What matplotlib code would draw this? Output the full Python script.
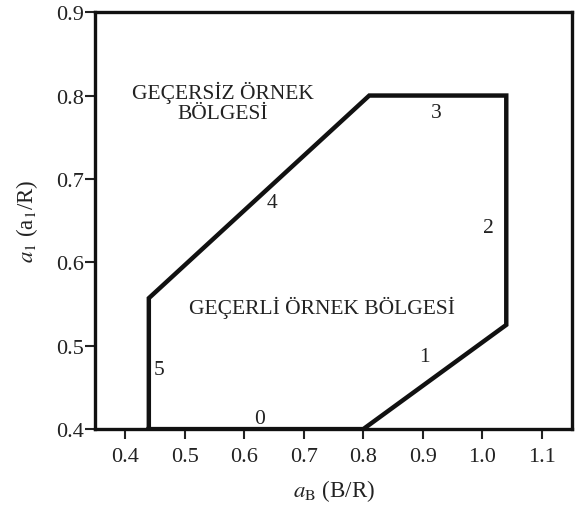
import matplotlib
matplotlib.use("Agg")
import matplotlib.pyplot as plt

plt.rcParams['font.family'] = 'serif'
plt.rcParams['font.serif'] = ['Liberation Serif', 'DejaVu Serif']
plt.rcParams['mathtext.fontset'] = 'stix'

# sınır çokgeni (a_B, a_1)
poly_x = [0.44, 0.44, 0.81, 1.04, 1.04, 0.80, 0.44]
poly_y = [0.40, 0.557, 0.80, 0.80, 0.525, 0.40, 0.40]

# kenar numaraları
edge_labels = ['0', '1', '2', '3', '4', '5']
edge_x = [0.626, 0.902, 1.010, 0.923, 0.646, 0.457]
edge_y = [0.413, 0.487, 0.642, 0.780, 0.672, 0.471]

xticks = [0.4, 0.5, 0.6, 0.7, 0.8, 0.9, 1.0, 1.1]
yticks = [0.4, 0.5, 0.6, 0.7, 0.8, 0.9]

fig = plt.figure(figsize=(5.77, 5.06), dpi=100)
ax = fig.add_axes([0.165, 0.150, 0.826, 0.824])

ax.plot(poly_x, poly_y, color='#111111', linewidth=3.2, solid_joinstyle='miter')

for t, x, y in zip(edge_labels, edge_x, edge_y):
    ax.text(x, y, t, fontsize=15.5, ha='center', va='center', color='#222222')

ax.text(0.564, 0.792, 'GEÇERSİZ ÖRNEK\nBÖLGESİ', fontsize=15.5, ha='center',
        va='center', linespacing=1.1, color='#222222')
ax.text(0.73, 0.546, 'GEÇERLİ ÖRNEK BÖLGESİ', fontsize=15.5, ha='center',
        va='center', color='#222222')

ax.set_xlim(0.35, 1.15)
ax.set_ylim(0.4, 0.9)
ax.set_xticks(xticks)
ax.set_yticks(yticks)
ax.set_xticklabels(['%.1f' % v for v in xticks])
ax.set_yticklabels(['%.1f' % v for v in yticks])

for s in ax.spines.values():
    s.set_linewidth(2.4)
    s.set_color('#111111')
ax.tick_params(direction='out', length=7, width=1.5, labelsize=16,
               colors='#222222')
ax.tick_params(axis='x', pad=6)
ax.tick_params(axis='y', pad=1)

ax.set_xlabel(r'$a_{\mathrm{B}}$ (B/R)', fontsize=16.5, labelpad=8, color='#222222')
ax.set_ylabel(r'$a_{1}$ (a$_{1}$/R)', fontsize=16.5, labelpad=11.5, color='#222222')

fig.savefig('out.png', dpi=100)
